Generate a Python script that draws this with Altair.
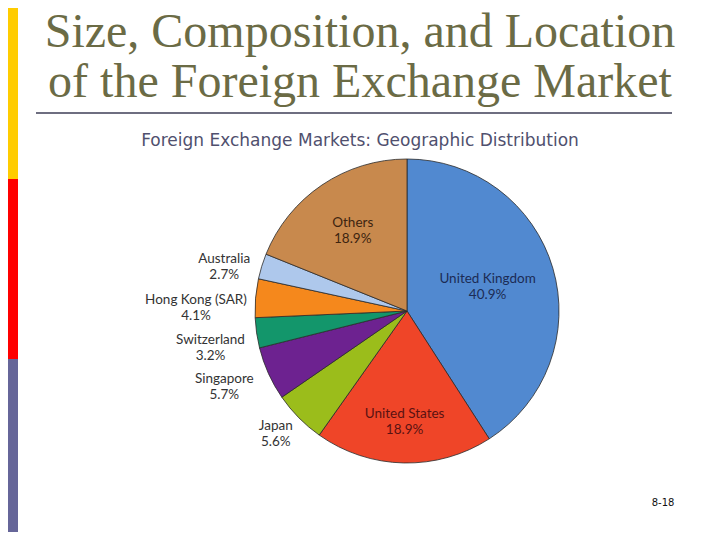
import altair as alt
import pandas as pd

# ---- data ----
regions = ["United Kingdom", "United States", "Japan", "Singapore",
           "Switzerland", "Hong Kong (SAR)", "Australia", "Others"]
shares = [40.9, 18.9, 5.6, 5.7, 3.2, 4.1, 2.7, 18.9]
slice_colors = ["#5189d0", "#ef4528", "#9bbd1b", "#6d2290",
                "#13966b", "#f5881c", "#aec8ec", "#c8894d"]
label_colors = ["#1c2c55", "#5a1212", "#333333", "#333333",
                "#333333", "#333333", "#333333", "#3d2410"]
# layout: distance of each label from the pie centre (px) and a small
# angular nudge (in share units) so labels sit where the original puts them
label_radius = [84, 111, 180, 198, 200, 211, 188, 97]
label_nudge = [0, 0, 0.4, 0.45, -0.67, -1.15, -1.0, 0]

title_lines = ["Size, Composition, and Location", "of the Foreign Exchange Market"]
subtitle = "Foreign Exchange Markets: Geographic Distribution"
page_no = "8-18"

W, H = 704, 524
CX, CY, R = 399, 303, 152

df = pd.DataFrame({
    "idx": list(range(len(regions))),
    "region": regions,
    "share": shares,
    "color": slice_colors,
    "lcolor": label_colors,
    "r": label_radius,
    "nudge": label_nudge,
})
df["label"] = [f"{n}\n{v:.1f}%" for n, v in zip(regions, shares)]

pie = alt.Chart(df).mark_arc(stroke="#2a2a2a", strokeWidth=0.8).encode(
    theta=alt.Theta("share:Q", stack=True),
    order=alt.Order("idx:Q"),
    x=alt.value(CX), y=alt.value(CY),
    radius=alt.value(R),
    color=alt.Color("color:N", scale=None, legend=None),
)

labels = alt.Chart(df).transform_window(
    cum="sum(share)", sort=[alt.SortField("idx")],
    frame=[None, 0],
).transform_calculate(
    mid="datum.cum - datum.share / 2 + datum.nudge"
).mark_text(font="Lato", fontSize=13.5, lineBreak="\n",
            align="center", baseline="middle", lineHeight=16, dy=-8).encode(
    theta=alt.Theta("mid:Q", stack=None),
    x=alt.value(CX), y=alt.value(CY),
    radius=alt.Radius("r:Q", scale=None),
    text="label:N",
    color=alt.Color("lcolor:N", scale=None, legend=None),
)

one = pd.DataFrame({"k": [0]})
bar_y = alt.Chart(one).mark_rect(color="#ffcc00").encode(
    x=alt.value(0), x2=alt.value(10), y=alt.value(0), y2=alt.value(171))
bar_r = alt.Chart(one).mark_rect(color="#ff0000").encode(
    x=alt.value(0), x2=alt.value(10), y=alt.value(171), y2=alt.value(351))
bar_b = alt.Chart(one).mark_rect(color="#666699").encode(
    x=alt.value(0), x2=alt.value(10), y=alt.value(351), y2=alt.value(H))

rule = alt.Chart(one).mark_rule(color="#6e6e80", strokeWidth=2).encode(
    x=alt.value(28), x2=alt.value(664), y=alt.value(105))

tdf = pd.DataFrame({"t": title_lines})
t1 = alt.Chart(tdf.iloc[[0]]).mark_text(font="Liberation Serif", fontSize=48,
                                        color="#6b6b45", align="center",
                                        baseline="alphabetic").encode(
    x=alt.value(352), y=alt.value(39), text="t:N")
t2 = alt.Chart(tdf.iloc[[1]]).mark_text(font="Liberation Serif", fontSize=48,
                                        color="#6b6b45", align="center",
                                        baseline="alphabetic").encode(
    x=alt.value(352), y=alt.value(89), text="t:N")

sub = alt.Chart(pd.DataFrame({"t": [subtitle]})).mark_text(
    font="DejaVu Sans", fontSize=17, color="#50506e",
    align="center", baseline="alphabetic").encode(
    x=alt.value(352), y=alt.value(138), text="t:N")

pg = alt.Chart(pd.DataFrame({"t": [page_no]})).mark_text(
    font="DejaVu Sans", fontSize=10, color="#111111", align="center",
    baseline="middle").encode(x=alt.value(655), y=alt.value(495), text="t:N")

chart = alt.layer(bar_y, bar_r, bar_b, rule, t1, t2, sub, pie, labels, pg).properties(
    width=W, height=H,
    autosize=alt.AutoSizeParams(type="none"),
    padding=0,
).configure_view(stroke=None)

chart.save("out.html", embed_options={"renderer": "svg", "actions": False})
